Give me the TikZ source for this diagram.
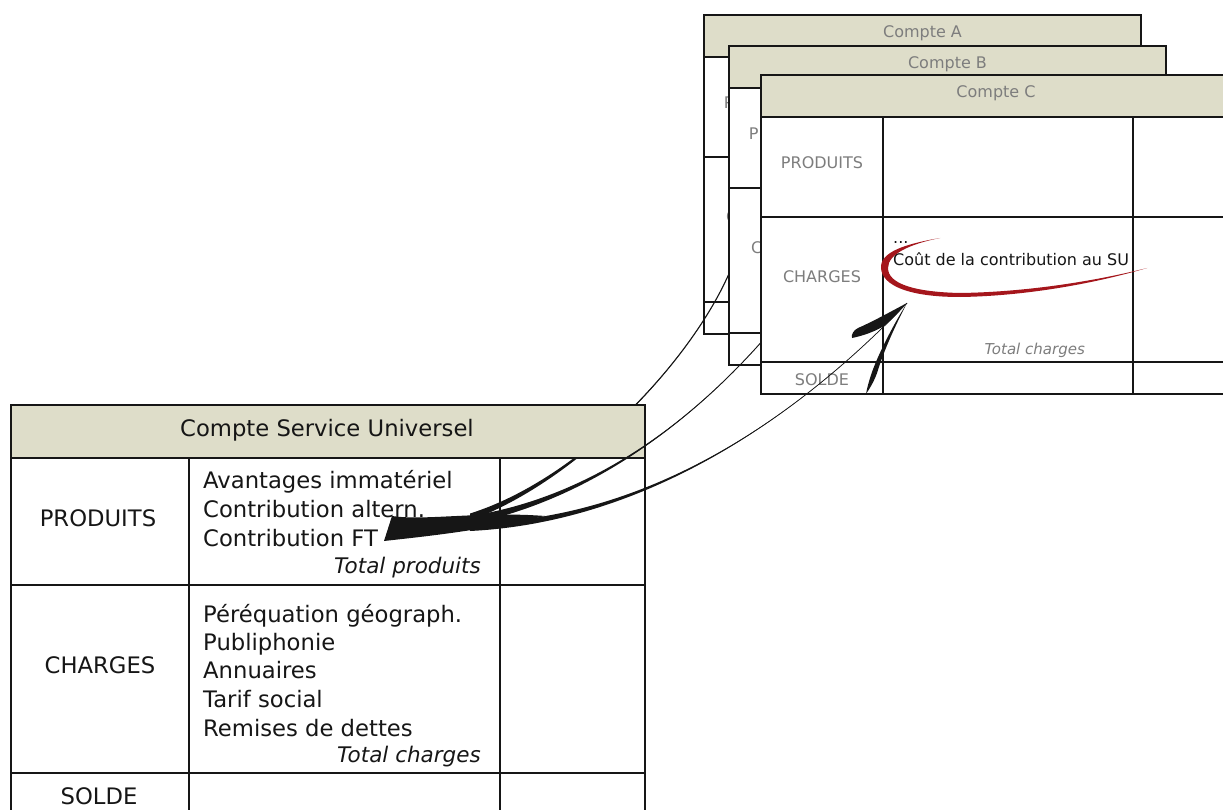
\documentclass[tikz,border=0pt]{standalone}
\usepackage{fontspec}
\setmainfont{DejaVu Sans}
\usetikzlibrary{calc}
\definecolor{hdr}{RGB}{222,221,201}
\definecolor{lbl}{RGB}{125,125,125}
\definecolor{ink}{RGB}{22,22,22}
\definecolor{swoosh}{RGB}{165,22,28}
\tikzset{
  tbl/.style={draw=ink, line width=2.1pt},
  ctbl/.style={draw=ink, line width=1.9pt},
  big/.style={font=\fontsize{22.7}{27}\selectfont, text=ink, inner sep=0pt},
  bigit/.style={font=\fontsize{21.5}{26}\selectfont\itshape, text=ink, inner sep=0pt},
  small/.style={font=\fontsize{16}{19}\selectfont, text=lbl, inner sep=0pt},
  smallink/.style={font=\fontsize{16}{19}\selectfont, text=ink, inner sep=0pt},
  smallit/.style={font=\fontsize{15}{18}\selectfont\itshape, text=lbl, inner sep=0pt},
}
\newcommand\comptetab[5]{%
\begin{scope}[shift={(#2,#3)}]
  \fill[white] (0,0) rectangle (#4,319);
  \fill[hdr] (0,0) rectangle (#4,42);
  \draw[ctbl] (0,0) rectangle (#4,319);
  \draw[ctbl] (0,42) -- (#4,42) (0,142) -- (#4,142) (0,287) -- (#4,287)
    (122,42) -- (122,319) (372,42) -- (372,319);
  \node[small, anchor=base] (#1title) at (#4/2,23) {#5};
  \node[small, anchor=base] (#1prod) at (61,94) {PRODUITS};
  \node[small, anchor=base] (#1char) at (61,208) {CHARGES};
  \node[small, anchor=base] (#1solde) at (61,310) {SOLDE};
\end{scope}}
\newcommand\taper[6]{%
  \fill[ink] (#1) .. controls (#2) and ($(#3)+(0,0.6)$) .. ($(#4)+(0,#5)$)
    -- ($(#4)+(0,-#5)$) .. controls ($(#3)+(0,-0.6)$) and (#2) .. (#1) -- cycle;
  \draw[ink, line width=#6] (#1) .. controls (#2) and (#3) .. (#4);
}
\begin{document}
\begin{tikzpicture}[x=1pt, y=-1pt]
\useasboundingbox (0,0) rectangle (1223,810);

% ---- Compte A
\comptetab{A}{704}{15}{437}{Compte A}

% ---- curve from Compte A
\coordinate (aS) at (736,256);
\coordinate (aC1) at (704,348);
\coordinate (aC2) at (585,478);
\coordinate (aE) at (470,517);
\taper{aS}{aC1}{aC2}{aE}{3.5}{1.1pt}

% ---- Compte B
\comptetab{B}{729}{46}{437}{Compte B}

% ---- Main table
\fill[hdr] (11,405) rectangle (645,458);
\draw[tbl] (11,405) rectangle (645,830);
\draw[tbl] (11,458) -- (645,458) (11,585) -- (645,585) (11,773) -- (645,773)
  (189,458) -- (189,830) (500,458) -- (500,830);
\node[big, anchor=base] (mtitle) at (327,436) {Compte Service Universel};
\node[big, anchor=base] (mprod) at (98,526) {PRODUITS};
\node[big, anchor=base west] (p1) at (203,488) {Avantages immatériel};
\node[big, anchor=base west] (p2) at (203,517) {Contribution altern.};
\node[big, anchor=base west] (p3) at (203,546) {Contribution FT};
\node[bigit, anchor=base east] (ptot) at (481,573) {Total produits};
\node[big, anchor=base] (mchar) at (100,673) {CHARGES};
\node[big, anchor=base west] (c1) at (203,622) {Péréquation géograph.};
\node[big, anchor=base west] (c2) at (203,650) {Publiphonie};
\node[big, anchor=base west] (c3) at (203,678) {Annuaires};
\node[big, anchor=base west] (c4) at (203,707) {Tarif social};
\node[big, anchor=base west] (c5) at (203,736) {Remises de dettes};
\node[bigit, anchor=base east] (ctot) at (481,762) {Total charges};
\node[big, anchor=base] (msolde) at (99,804) {SOLDE};

% ---- curve from Compte B
\coordinate (bS) at (776,325);
\coordinate (bC1) at (715,398);
\coordinate (bC2) at (610,495);
\coordinate (bE) at (470,520);
\taper{bS}{bC1}{bC2}{bE}{4}{0.9pt}

% ---- Compte C
\comptetab{C}{761}{75}{470}{Compte C}
\node[smallink, anchor=base west] (cdots) at (893,244) {...};
\node[smallink, anchor=base west] (ccout) at (893,266) {Coût de la contribution au SU};
\node[smallit, anchor=base east] (ctotc) at (1085,354) {Total charges};

% ---- curve from Compte C
\coordinate (cS) at (907,303);
\coordinate (cC1) at (790,425);
\coordinate (cC2) at (640,522);
\coordinate (cE) at (470,527);
\taper{cS}{cC1}{cC2}{cE}{4}{0.7pt}

% brush strokes at the origin in Compte C
\fill[ink] (cS) .. controls (890,312) and (872,322) .. (858,328)
  .. controls (854,330) and (851,334) .. (852,338)
  .. controls (862,336) and (874,332) .. (884,326)
  .. controls (894,318) and (901,309) .. (cS) -- cycle;
\fill[ink] (cS) .. controls (895,322) and (880,350) .. (872,372)
  .. controls (869,381) and (867,388) .. (866,394)
  .. controls (870,388) and (875,380) .. (878,370)
  .. controls (884,350) and (897,322) .. (cS) -- cycle;

% ---- arrow head wedge at "Contribution FT"
\coordinate (tipTop) at (392,516);
\coordinate (tipBot) at (384,541);
\coordinate (wedgeR) at (545,516);
\fill[ink] (wedgeR) .. controls (480,511) and (425,521) .. (tipTop)
  -- (tipBot) .. controls (420,537) and (480,531) .. (wedgeR) -- cycle;

% ---- red swoosh around the text
\fill[swoosh] (940,238) .. controls (905,244) and (880,252) .. (881,268)
  .. controls (882,286) and (910,297) .. (960,297)
  .. controls (1030,296) and (1100,282) .. (1147,268)
  .. controls (1100,280) and (1030,292) .. (960,293)
  .. controls (915,292) and (888,284) .. (888,268)
  .. controls (888,254) and (910,244) .. (940,238) -- cycle;
\end{tikzpicture}
\end{document}
